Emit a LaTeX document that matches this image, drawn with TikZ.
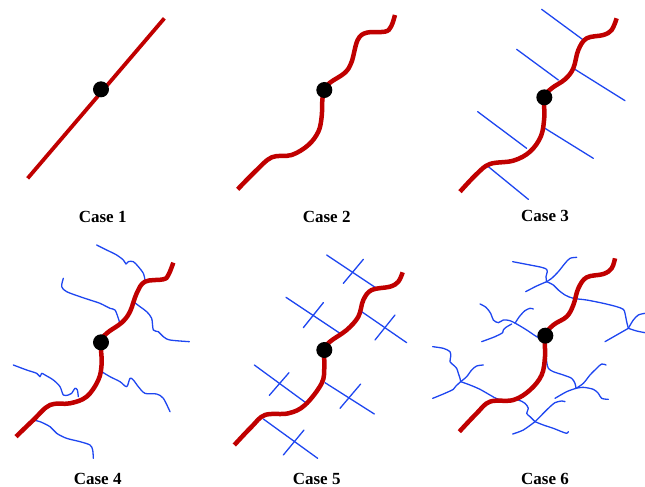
\documentclass[tikz,border=0pt]{standalone}
\usepackage{fontspec}
\setmainfont{Liberation Serif}
\definecolor{fred}{RGB}{192,0,0}
\definecolor{fblue}{RGB}{30,70,240}
\begin{document}
\begin{tikzpicture}[x=1pt,y=-1pt,
  main/.style={draw=fred,line width=4.5pt,line cap=butt,line join=round},
  fblue/.style={draw=fblue,line width=1.3pt,line cap=round,line join=round},
  wig/.style={fblue,smooth,tension=0.5},
  dot/.style={circle,fill=black,inner sep=0pt,minimum size=16pt},
  lab/.style={font=\bfseries\fontsize{17}{20}\selectfont,inner sep=0pt}]
\useasboundingbox (0,0) rectangle (645,487);

% ---------- Case 1
\begin{scope}[shift={(0,0)},scale=0.33333]
\draw[main,line width=3.8pt] (83,535) -- (493,55);
\node[dot] (d1) at (303,268) {};
\end{scope}
\node[lab] (c1) at (102.7,216.5) {Case 1};

% ---------- Case 2
\begin{scope}[shift={(215,0)},scale=0.33333]
\draw[main] plot[smooth,tension=0.6] coordinates {(68,568) (120,515) (170,472) (230,465) (280,435) (310,395) (320,350) (322,300) (328,270) (345,248) (390,218) (410,185) (428,120) (455,98) (510,95) (528,80) (540,45)};
\node[dot] (d2) at (328,270) {};
\end{scope}
\node[lab] (c2) at (326.7,216.5) {Case 2};

% ---------- Case 3
\begin{scope}[shift={(430,0)},scale=0.33333]
\draw[fblue] (335,28) -- (460,120);
\draw[fblue] (260,148) -- (385,240);
\draw[fblue] (430,205) -- (585,302);
\draw[fblue] (143,335) -- (290,445);
\draw[fblue] (345,385) -- (490,475);
\draw[fblue] (175,500) -- (295,598);
\draw[main] plot[smooth,tension=0.6] coordinates {(90,575) (140,522) (180,492) (250,482) (300,455) (333,408) (343,350) (343,292) (365,265) (405,238) (430,205) (445,150) (470,115) (520,105) (545,90) (560,55)};
\node[dot] (d3) at (343,292) {};
\end{scope}
\node[lab] (c3) at (545,216) {Case 3};

% ---------- Case 4
\begin{scope}[shift={(0,240)},scale=0.33333]
\draw[wig] plot coordinates {(290,15) (320,30) (350,45) (370,60) (378,72) (385,65) (400,65) (415,80) (430,100) (435,120)};
\draw[wig] plot coordinates {(190,115) (185,140) (200,155) (240,170) (270,180) (300,190) (330,205) (345,210) (355,235) (358,245)};
\draw[wig] plot coordinates {(400,185) (420,200) (440,215) (455,235) (460,270) (475,275) (490,290) (510,300) (568,305)};
\draw[wig] plot coordinates {(40,375) (80,390) (110,400) (120,410) (125,400) (135,405) (160,420) (180,440) (190,465) (205,465) (215,460) (225,445) (232,450) (235,470)};
\draw[wig] plot coordinates {(305,395) (330,410) (360,425) (380,440) (390,415) (400,420) (415,440) (435,460) (470,462) (490,475) (510,515)};
\draw[wig] plot coordinates {(100,540) (120,545) (150,560) (170,580) (200,595) (240,605) (270,615) (278,630) (280,655)};
\draw[main] plot[smooth,tension=0.6] coordinates {(48,590) (100,540) (150,495) (210,490) (260,470) (295,420) (305,370) (303,307) (320,280) (365,248) (390,215) (410,160) (435,125) (490,118) (505,105) (520,68)};
\node[dot] (d4) at (303,307) {};
\end{scope}
\node[lab] (c4) at (97.7,479) {Case 4};

% ---------- Case 5
\begin{scope}[shift={(215,240)},scale=0.33333]
\draw[fblue] (335,45) -- (485,145);  \draw[fblue] (385,130) -- (445,58);
\draw[fblue] (213,172) -- (375,280); \draw[fblue] (265,263) -- (325,188);
\draw[fblue] (440,215) -- (575,308); \draw[fblue] (480,300) -- (540,225);
\draw[fblue] (118,375) -- (275,490); \draw[fblue] (163,466) -- (222,398);
\draw[fblue] (330,428) -- (478,522); \draw[fblue] (375,505) -- (437,432);
\draw[fblue] (145,537) -- (308,655); \draw[fblue] (205,645) -- (267,570);
\draw[main] plot[smooth,tension=0.6] coordinates {(58,615) (110,560) (150,525) (220,520) (270,495) (320,430) (328,380) (328,330) (345,305) (395,270) (430,230) (445,180) (470,150) (525,140) (550,125) (563,97)};
\node[dot] (d5) at (328,330) {};
\end{scope}
\node[lab] (c5) at (316.7,479) {Case 5};

% ---------- Case 6
\begin{scope}[shift={(430,240)},scale=0.33333]
% top group
\draw[wig] plot coordinates {(248,65) (300,75) (335,82) (350,88) (352,95) (348,110) (350,125)};
\draw[wig] plot coordinates {(350,125) (365,115) (385,95) (405,70) (420,55) (440,52)};
\draw[wig] plot coordinates {(350,125) (320,138) (287,155)};
\draw[wig] plot coordinates {(350,125) (370,135) (385,150) (405,165) (430,175) (470,180) (520,190) (560,200) (580,208) (585,220) (590,245) (595,265)};
\draw[wig] plot coordinates {(595,265) (610,240) (625,225) (645,220)};
\draw[wig] plot coordinates {(595,265) (560,285) (525,305)};
\draw[wig] plot coordinates {(595,265) (620,273) (645,278)};
% middle-left group
\draw[wig] plot coordinates {(150,192) (168,202) (182,220) (190,240) (205,248) (220,240) (240,242) (260,252) (290,270) (320,290) (340,298)};
\draw[wig] plot coordinates {(255,250) (268,230) (285,212) (300,205) (310,207)};
\draw[wig] plot coordinates {(245,252) (228,262) (220,270) (218,278) (195,290) (155,305)};
% lower-left group
\draw[wig] plot coordinates {(8,320) (40,325) (60,335) (62,350) (60,365) (70,375) (80,385) (85,400) (90,415) (92,425)};
\draw[wig] plot coordinates {(92,425) (110,410) (125,390) (140,378) (160,375)};
\draw[wig] plot coordinates {(92,425) (78,438) (70,448) (40,462) (8,475)};
\draw[wig] plot coordinates {(92,425) (120,435) (150,448) (180,465) (205,478) (240,480) (265,480) (285,490) (295,505) (290,520) (300,530) (310,540) (315,545)};
\draw[wig] plot coordinates {(315,545) (335,525) (355,505) (375,488) (395,483) (405,485)};
\draw[wig] plot coordinates {(315,545) (280,570) (248,582)};
\draw[wig] plot coordinates {(315,545) (340,555) (370,565) (395,575) (410,580) (415,575)};
% lower-right group
\draw[wig] plot coordinates {(345,315) (348,340) (350,365) (355,385) (370,395) (400,405) (425,415) (435,430) (438,445)};
\draw[wig] plot coordinates {(438,445) (460,430) (480,405) (500,385) (515,372) (528,375)};
\draw[wig] plot coordinates {(438,445) (410,455) (375,475)};
\draw[wig] plot coordinates {(438,445) (460,442) (490,448) (505,460) (515,475) (535,478)};
\draw[main] plot[smooth,tension=0.6] coordinates {(88,575) (140,520) (180,485) (250,480) (300,450) (335,405) (345,350) (346,287) (370,255) (410,230) (430,195) (445,145) (470,112) (520,102) (545,85) (555,55)};
\node[dot] (d6) at (346,287) {};
\end{scope}
\node[lab] (c6) at (545,479) {Case 6};
\end{tikzpicture}
\end{document}
